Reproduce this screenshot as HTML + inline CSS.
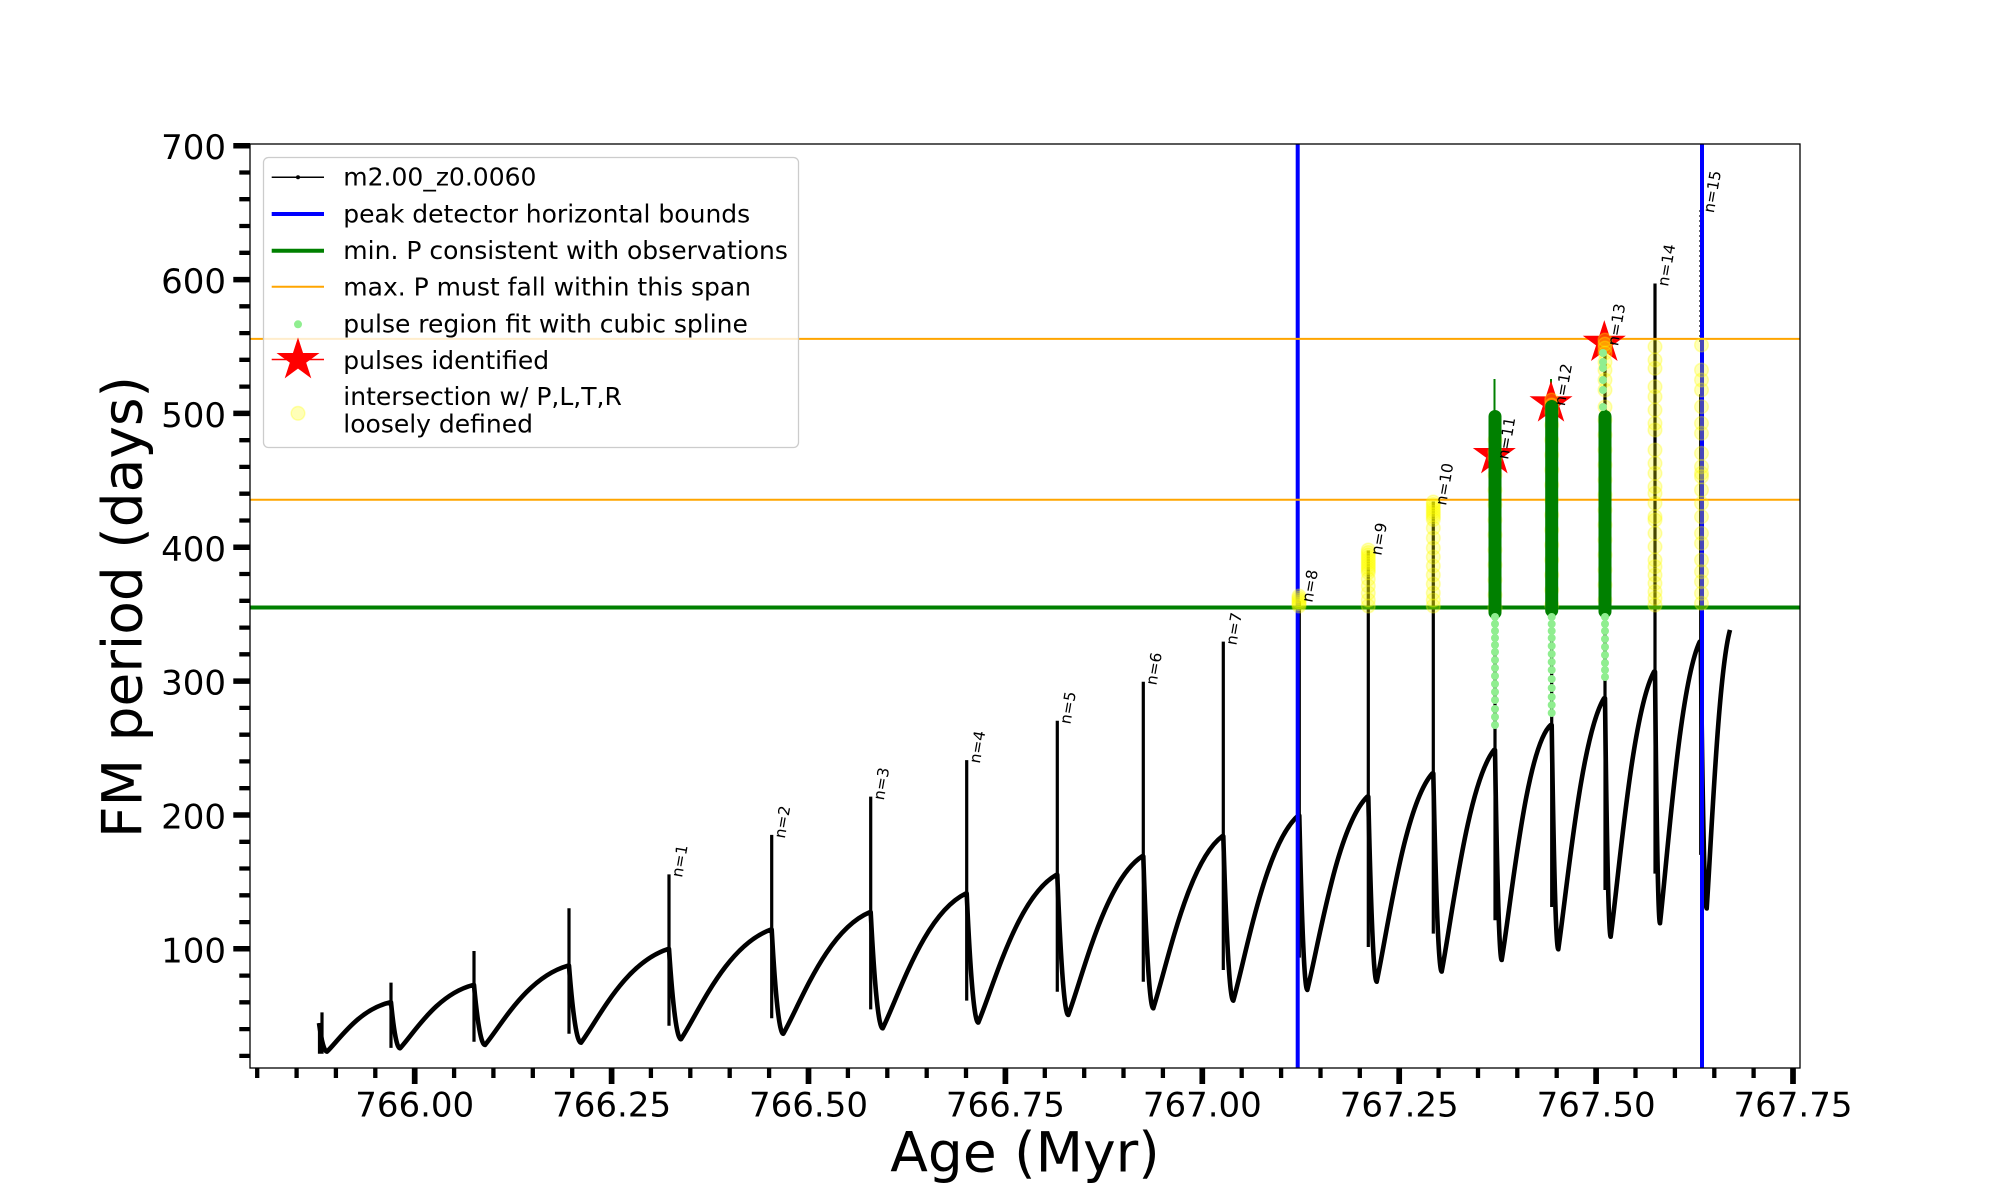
<!DOCTYPE html>
<html><head><meta charset="utf-8"><style>
html,body{margin:0;padding:0;background:#fff}
svg{display:block}
text{font-family:"DejaVu Sans","Liberation Sans",sans-serif;fill:#000}
</style></head><body>
<svg width="2000" height="1200" viewBox="0 0 2000 1200" xmlns="http://www.w3.org/2000/svg">
<rect x="0" y="0" width="2000" height="1200" fill="#fff"/>
<g transform="matrix(1 0 0 -1.335 0 1080.5)">
<path vector-effect="non-scaling-stroke" fill="none" stroke="#000" stroke-width="4.6" stroke-linejoin="round" d="M319,43 Q323,21.6 327,21.6 C339.6,30.8 358.5,53.0 390,58.5 L391,58.5
Q395.5,24.1 400,24.1 C414.6,36.0 436.5,64.4 473,71.5 L474,71.5
Q479.5,26.6 485,26.6 C501.6,41.5 526.5,77.1 568,86 L569,86
Q575,28.3 581,28.3 C598.4,45.85 624.5,87.97 668,98.5 L669,98.5
Q675,30.9 681,30.9 C698.9,51.4 725.9,100.7 770.7,113 L771.7,113
Q777.5,35 783.3,35 C800.6,57.75 826.5,112.35 869.7,126 L870.7,126
Q876.7,39.1 882.7,39.1 C899.3,64.3 924.2,124.9 965.7,140 L966.7,140
Q972.5,43.4 978.3,43.4 C993.9,71.05 1017.3,137.4 1056.3,154 L1057.3,154
Q1062.8,49.1 1068.3,49.1 C1083.1,78.8 1105.3,150.2 1142.3,168 L1143.3,168
Q1148.3,54.1 1153.3,54.1 C1167.1,86.3 1187.8,163.7 1222.3,183 L1223.3,183
Q1228.3,59.8 1233.3,59.8 C1246.3,94.5 1265.8,177.7 1298.3,198.5 L1299.3,198.5
Q1303.3,67.8 1307.3,67.8 C1319.3,104 1337.3,190.9 1367.3,212.6 L1368.3,212.6
Q1372.5,74 1376.7,74 C1387.8,113 1404.5,206.6 1432.3,230 L1433.3,230
Q1437.5,81.6 1441.7,81.6 C1452.2,123.1 1467.9,222.7 1494,247.6 L1495,247.6
Q1498.4,90.3 1501.7,90.3 C1511.5,134.3 1526.2,249.9 1550.7,266.3 L1551.7,266.3
Q1555,98.3 1558.3,98.3 C1567.4,145.3 1581.2,258.1 1604,286.3 L1605,286.3
Q1607.9,107.7 1610.7,107.7 C1619.4,157.3 1632.4,276.4 1654,306.2 L1655,306.2
Q1657.5,117.8 1660,117.8 C1667.9,170.5 1679.9,297.1 1699.7,328.7 L1700.7,328.7
Q1703.7,128.9 1706.7,128.9 C1711.4,180.9 1718.4,306 1730,337.5"/>
<path vector-effect="non-scaling-stroke" fill="none" stroke="#000" stroke-width="3.2" d="M319.5,20 V43 M322,20 V51 M391,24.4 V73.3 M474,29 V97 M569,35 V129 M669,41 V154.4 M771.7,46.6 V184 M870.7,53.3 V212.6 M966.7,59.8 V240 M1057.3,66.5 V269.5 M1143.3,74 V298.7 M1223.3,82.8 V328.7 M1299.3,92 V359 M1368.3,100 V397 M1433.3,110 V433.6 M1495,120 V497 M1551.7,130 V505 M1605,142.7 V552 M1655,155 V597 M1700.7,169 V514"/>
</g>
<path d="M1700,210 V345" stroke="#444" stroke-width="1.6" stroke-dasharray="2 3" fill="none"/>
<!-- reference lines -->
<path d="M1297.7,144 V1068 M1702,144 V1068" stroke="#0000ff" stroke-width="4" fill="none"/>
<path d="M250,607.5 H1800" stroke="#008000" stroke-width="4" fill="none"/>
<path d="M250,338.9 H1800 M250,499.8 H1800" stroke="#ffa500" stroke-width="2" fill="none"/>
<path d="M1494.5,379 V417 M1551,379 V402" stroke="#008000" stroke-width="2" fill="none"/>
<!-- stars -->
<g fill="#ff0000" stroke="#ff0000" stroke-width="1">
<polygon transform="translate(1494.3,455)" points="0,-21 4.70,-6.47 19.97,-6.49 7.61,2.47 12.34,17.0 0,8 -12.34,17.0 -7.61,2.47 -19.97,-6.49 -4.70,-6.47"/>
<polygon transform="translate(1551,403.3)" points="0,-21 4.70,-6.47 19.97,-6.49 7.61,2.47 12.34,17.0 0,8 -12.34,17.0 -7.61,2.47 -19.97,-6.49 -4.70,-6.47"/>
<polygon transform="translate(1604.3,342.7)" points="0,-21 4.70,-6.47 19.97,-6.49 7.61,2.47 12.34,17.0 0,8 -12.34,17.0 -7.61,2.47 -19.97,-6.49 -4.70,-6.47"/>
</g>
<!-- yellow under green columns (n=11..13) -->
<g fill="#ffff00" fill-opacity="0.28" stroke="#ffff00" stroke-opacity="0.3" stroke-width="1.5">
<circle cx="1495" cy="440" r="6.8"/><circle cx="1495" cy="452" r="6.8"/><circle cx="1495" cy="458" r="6.8"/><circle cx="1495" cy="475" r="6.8"/><circle cx="1495" cy="490" r="6.8"/><circle cx="1495" cy="505" r="6.8"/><circle cx="1495" cy="520" r="6.8"/><circle cx="1495" cy="535" r="6.8"/><circle cx="1495" cy="550" r="6.8"/><circle cx="1495" cy="565" r="6.8"/><circle cx="1495" cy="580" r="6.8"/><circle cx="1495" cy="595" r="6.8"/><circle cx="1495" cy="608" r="6.8"/>
<circle cx="1551.7" cy="400" r="6.8"/><circle cx="1551.7" cy="405" r="6.8"/><circle cx="1551.7" cy="412" r="6.8"/><circle cx="1551.7" cy="425" r="6.8"/><circle cx="1551.7" cy="440" r="6.8"/><circle cx="1551.7" cy="455" r="6.8"/><circle cx="1551.7" cy="470" r="6.8"/><circle cx="1551.7" cy="485" r="6.8"/><circle cx="1551.7" cy="500" r="6.8"/><circle cx="1551.7" cy="515" r="6.8"/><circle cx="1551.7" cy="530" r="6.8"/><circle cx="1551.7" cy="545" r="6.8"/><circle cx="1551.7" cy="560" r="6.8"/><circle cx="1551.7" cy="575" r="6.8"/><circle cx="1551.7" cy="590" r="6.8"/><circle cx="1551.7" cy="605" r="6.8"/>
<circle cx="1605" cy="340" r="6.8"/><circle cx="1605" cy="344" r="6.8"/><circle cx="1605" cy="348" r="6.8"/><circle cx="1605" cy="353" r="6.8"/><circle cx="1605" cy="362" r="6.8"/><circle cx="1605" cy="370" r="6.8"/><circle cx="1605" cy="380" r="6.8"/><circle cx="1605" cy="390" r="6.8"/><circle cx="1605" cy="407" r="6.8"/><circle cx="1605" cy="420" r="6.8"/><circle cx="1605" cy="435" r="6.8"/><circle cx="1605" cy="450" r="6.8"/><circle cx="1605" cy="465" r="6.8"/><circle cx="1605" cy="480" r="6.8"/><circle cx="1605" cy="495" r="6.8"/><circle cx="1605" cy="510" r="6.8"/><circle cx="1605" cy="525" r="6.8"/><circle cx="1605" cy="540" r="6.8"/><circle cx="1605" cy="555" r="6.8"/><circle cx="1605" cy="570" r="6.8"/><circle cx="1605" cy="585" r="6.8"/><circle cx="1605" cy="600" r="6.8"/>
</g>
<!-- dark green columns -->
<g fill="#008000">
<rect x="1488.5" y="410" width="13" height="209" rx="6.5"/>
<rect x="1545.2" y="400" width="13" height="217" rx="6.5"/>
<rect x="1598.5" y="410" width="13" height="208" rx="6.5"/>
</g>
<!-- light green dots -->
<g fill="#90ee90">
<circle cx="1495" cy="617" r="4"/><circle cx="1495" cy="624" r="4"/><circle cx="1495" cy="631" r="4"/><circle cx="1495" cy="638" r="4"/><circle cx="1495" cy="645" r="4"/><circle cx="1495" cy="652" r="4"/><circle cx="1495" cy="660" r="4"/><circle cx="1495" cy="668" r="4"/><circle cx="1495" cy="676" r="4"/><circle cx="1495" cy="684" r="4"/><circle cx="1495" cy="692" r="4"/><circle cx="1495" cy="700" r="4"/><circle cx="1495" cy="709" r="4"/><circle cx="1495" cy="717" r="4"/><circle cx="1495" cy="725" r="4"/>
<circle cx="1551.7" cy="617" r="4"/><circle cx="1551.7" cy="624" r="4"/><circle cx="1551.7" cy="631" r="4"/><circle cx="1551.7" cy="638" r="4"/><circle cx="1551.7" cy="646" r="4"/><circle cx="1551.7" cy="654" r="4"/><circle cx="1551.7" cy="662" r="4"/><circle cx="1551.7" cy="670" r="4"/><circle cx="1551.7" cy="679" r="4"/><circle cx="1551.7" cy="688" r="4"/><circle cx="1551.7" cy="697" r="4"/><circle cx="1551.7" cy="705" r="4"/><circle cx="1551.7" cy="713" r="4"/>
<circle cx="1605" cy="617" r="4"/><circle cx="1605" cy="624" r="4"/><circle cx="1605" cy="631" r="4"/><circle cx="1605" cy="639" r="4"/><circle cx="1605" cy="647" r="4"/><circle cx="1605" cy="655" r="4"/><circle cx="1605" cy="663" r="4"/><circle cx="1605" cy="670" r="4"/><circle cx="1605" cy="677" r="4"/>
<circle cx="1603" cy="353" r="4"/><circle cx="1603" cy="362" r="4"/><circle cx="1603" cy="368" r="4"/><circle cx="1603" cy="380" r="4"/><circle cx="1603" cy="390" r="4"/><circle cx="1603" cy="407" r="4"/>
</g>
<!-- yellow loosely defined -->
<g fill="#ffff00" fill-opacity="0.28" stroke="#ffff00" stroke-opacity="0.3" stroke-width="1.5">
<circle cx="1299" cy="596" r="6.8"/><circle cx="1299" cy="598" r="6.8"/><circle cx="1299" cy="600" r="6.8"/><circle cx="1299" cy="602" r="6.8"/><circle cx="1299" cy="604" r="6.8"/><circle cx="1299" cy="606" r="6.8"/>
<circle cx="1368.3" cy="550" r="6.8"/><circle cx="1368.3" cy="552.5" r="6.8"/><circle cx="1368.3" cy="555" r="6.8"/><circle cx="1368.3" cy="557.5" r="6.8"/><circle cx="1368.3" cy="560" r="6.8"/><circle cx="1368.3" cy="562.5" r="6.8"/><circle cx="1368.3" cy="565" r="6.8"/><circle cx="1368.3" cy="567.5" r="6.8"/><circle cx="1368.3" cy="570" r="6.8"/><circle cx="1368.3" cy="572.5" r="6.8"/><circle cx="1368.3" cy="579" r="6.8"/><circle cx="1368.3" cy="586" r="6.8"/><circle cx="1368.3" cy="593" r="6.8"/><circle cx="1368.3" cy="600" r="6.8"/><circle cx="1368.3" cy="606" r="6.8"/>
<circle cx="1433.3" cy="502" r="6.8"/><circle cx="1433.3" cy="504.5" r="6.8"/><circle cx="1433.3" cy="507" r="6.8"/><circle cx="1433.3" cy="509.5" r="6.8"/><circle cx="1433.3" cy="512" r="6.8"/><circle cx="1433.3" cy="514.5" r="6.8"/><circle cx="1433.3" cy="517" r="6.8"/><circle cx="1433.3" cy="519.5" r="6.8"/><circle cx="1433.3" cy="528" r="6.8"/><circle cx="1433.3" cy="538" r="6.8"/><circle cx="1433.3" cy="548" r="6.8"/><circle cx="1433.3" cy="557" r="6.8"/><circle cx="1433.3" cy="566" r="6.8"/><circle cx="1433.3" cy="575" r="6.8"/><circle cx="1433.3" cy="584" r="6.8"/><circle cx="1433.3" cy="593" r="6.8"/><circle cx="1433.3" cy="600" r="6.8"/><circle cx="1433.3" cy="606" r="6.8"/>
<circle cx="1655" cy="346.7" r="6.8"/><circle cx="1655" cy="360" r="6.8"/><circle cx="1655" cy="368.3" r="6.8"/><circle cx="1655" cy="386.7" r="6.8"/><circle cx="1655" cy="396.7" r="6.8"/><circle cx="1655" cy="410" r="6.8"/><circle cx="1655" cy="423.3" r="6.8"/><circle cx="1655" cy="430" r="6.8"/><circle cx="1655" cy="450" r="6.8"/><circle cx="1655" cy="463.3" r="6.8"/><circle cx="1655" cy="473.3" r="6.8"/><circle cx="1655" cy="486.7" r="6.8"/><circle cx="1655" cy="493.3" r="6.8"/><circle cx="1655" cy="503.3" r="6.8"/><circle cx="1655" cy="516.7" r="6.8"/><circle cx="1655" cy="520" r="6.8"/><circle cx="1655" cy="533.3" r="6.8"/><circle cx="1655" cy="546.7" r="6.8"/><circle cx="1655" cy="560" r="6.8"/><circle cx="1655" cy="566.7" r="6.8"/><circle cx="1655" cy="575" r="6.8"/><circle cx="1655" cy="583.3" r="6.8"/><circle cx="1655" cy="591.7" r="6.8"/><circle cx="1655" cy="598.3" r="6.8"/><circle cx="1655" cy="605" r="6.8"/>
<circle cx="1701.5" cy="345" r="6.8"/><circle cx="1701.5" cy="370" r="6.8"/><circle cx="1701.5" cy="380" r="6.8"/><circle cx="1701.5" cy="390" r="6.8"/><circle cx="1701.5" cy="406.7" r="6.8"/><circle cx="1701.5" cy="423.3" r="6.8"/><circle cx="1701.5" cy="433.3" r="6.8"/><circle cx="1701.5" cy="453.3" r="6.8"/><circle cx="1701.5" cy="466.7" r="6.8"/><circle cx="1701.5" cy="473.3" r="6.8"/><circle cx="1701.5" cy="476.7" r="6.8"/><circle cx="1701.5" cy="490" r="6.8"/><circle cx="1701.5" cy="503.3" r="6.8"/><circle cx="1701.5" cy="516.7" r="6.8"/><circle cx="1701.5" cy="533.3" r="6.8"/><circle cx="1701.5" cy="543.3" r="6.8"/><circle cx="1701.5" cy="560" r="6.8"/><circle cx="1701.5" cy="571.7" r="6.8"/><circle cx="1701.5" cy="581.7" r="6.8"/><circle cx="1701.5" cy="593.3" r="6.8"/><circle cx="1701.5" cy="603.3" r="6.8"/>
</g>
<!-- n labels -->
<g font-size="15.5">
<text transform="translate(682,878) rotate(-80)">n=1</text>
<text transform="translate(784.7,839) rotate(-80)">n=2</text>
<text transform="translate(883.7,800.7) rotate(-80)">n=3</text>
<text transform="translate(979.7,764) rotate(-80)">n=4</text>
<text transform="translate(1070.3,724.7) rotate(-80)">n=5</text>
<text transform="translate(1156.3,685.7) rotate(-80)">n=6</text>
<text transform="translate(1236.3,645.7) rotate(-80)">n=7</text>
<text transform="translate(1312.3,603) rotate(-80)">n=8</text>
<text transform="translate(1381.3,556) rotate(-80)">n=9</text>
<text transform="translate(1446,506) rotate(-80)">n=10</text>
<text transform="translate(1508,460) rotate(-80)">n=11</text>
<text transform="translate(1564.7,406.5) rotate(-80)">n=12</text>
<text transform="translate(1618,346.5) rotate(-80)">n=13</text>
<text transform="translate(1668,287) rotate(-80)">n=14</text>
<text transform="translate(1713.7,213.5) rotate(-80)">n=15</text>
</g>
<!-- axes frame -->
<rect x="250" y="144" width="1550" height="924" fill="none" stroke="#000" stroke-width="1.3"/>
<!-- y ticks -->
<path stroke="#000" stroke-width="5.5" fill="none" d="M233.3,948.8H250 M233.3,815H250 M233.3,681.1H250 M233.3,547.3H250 M233.3,413.4H250 M233.3,279.6H250 M233.3,145.7H250"/>
<path stroke="#000" stroke-width="4.3" fill="none" d="M239.3,1055.9H250 M239.3,1029.1H250 M239.3,1002.3H250 M239.3,975.6H250 M239.3,922.1H250 M239.3,895.3H250 M239.3,868.5H250 M239.3,841.8H250 M239.3,788.2H250 M239.3,761.4H250 M239.3,734.7H250 M239.3,707.9H250 M239.3,654.3H250 M239.3,627.6H250 M239.3,600.8H250 M239.3,574H250 M239.3,520.5H250 M239.3,493.7H250 M239.3,466.9H250 M239.3,440.2H250 M239.3,386.6H250 M239.3,359.8H250 M239.3,333.1H250 M239.3,306.3H250 M239.3,252.8H250 M239.3,226H250 M239.3,199.2H250 M239.3,172.5H250"/>
<g font-size="34" text-anchor="end">
<text x="226" y="962.3">100</text>
<text x="226" y="828.5">200</text>
<text x="226" y="694.6">300</text>
<text x="226" y="560.8">400</text>
<text x="226" y="426.9">500</text>
<text x="226" y="293.1">600</text>
<text x="226" y="159.2">700</text>
</g>
<!-- x ticks -->
<path stroke="#000" stroke-width="5.7" fill="none" d="M414.7,1068V1084 M611.6,1068V1084 M808.5,1068V1084 M1005.4,1068V1084 M1202.3,1068V1084 M1399.2,1068V1084 M1596.1,1068V1084 M1793,1068V1084"/>
<path stroke="#000" stroke-width="4.3" fill="none" d="M257.2,1068V1078 M296.6,1068V1078 M335.9,1068V1078 M375.3,1068V1078 M454.1,1068V1078 M493.4,1068V1078 M532.8,1068V1078 M572.2,1068V1078 M650.9,1068V1078 M690.3,1068V1078 M729.7,1068V1078 M769.1,1068V1078 M847.9,1068V1078 M887.3,1068V1078 M926.7,1068V1078 M966,1068V1078 M1044.8,1068V1078 M1084.2,1068V1078 M1123.5,1068V1078 M1162.9,1068V1078 M1241.7,1068V1078 M1281.1,1068V1078 M1320.5,1068V1078 M1359.8,1068V1078 M1438.6,1068V1078 M1478,1068V1078 M1517.3,1068V1078 M1556.7,1068V1078 M1635.5,1068V1078 M1674.9,1068V1078 M1714.3,1068V1078 M1753.6,1068V1078"/>
<g font-size="34" text-anchor="middle">
<text x="414.7" y="1116.5">766.00</text>
<text x="611.6" y="1116.5">766.25</text>
<text x="808.5" y="1116.5">766.50</text>
<text x="1005.4" y="1116.5">766.75</text>
<text x="1202.3" y="1116.5">767.00</text>
<text x="1399.2" y="1116.5">767.25</text>
<text x="1596.1" y="1116.5">767.50</text>
<text x="1793" y="1116.5">767.75</text>
</g>
<!-- axis labels -->
<text x="1025" y="1171.5" font-size="55" text-anchor="middle">Age (Myr)</text>
<text transform="translate(141.7,607) rotate(-90)" font-size="55" text-anchor="middle">FM period (days)</text>
<!-- legend -->
<rect x="263.5" y="157.5" width="535" height="290" rx="5" fill="#fff" fill-opacity="0.8" stroke="#cccccc" stroke-width="1.3"/>
<path d="M271.7,177.3H324" stroke="#000" stroke-width="1.5"/>
<circle cx="298" cy="177.3" r="2" fill="#000"/>
<path d="M271.7,214H324" stroke="#0000ff" stroke-width="4"/>
<path d="M271.7,250.7H324" stroke="#008000" stroke-width="4"/>
<path d="M271.7,286.7H324" stroke="#ffa500" stroke-width="2"/>
<circle cx="298" cy="324.3" r="4" fill="#90ee90"/>
<path d="M271.7,359.5H324" stroke="#ff0000" stroke-width="1.5"/>
<polygon transform="translate(298,360)" fill="#ff0000" stroke="#ff0000" stroke-width="1" points="0,-21 4.70,-6.47 19.97,-6.49 7.61,2.47 12.34,17.0 0,8 -12.34,17.0 -7.61,2.47 -19.97,-6.49 -4.70,-6.47"/>
<circle cx="298" cy="413.3" r="6.8" fill="#ffff00" fill-opacity="0.28" stroke="#ffff00" stroke-opacity="0.3" stroke-width="1.5"/>
<g font-size="25">
<text x="343.3" y="185.7">m2.00_z0.0060</text>
<text x="343.3" y="222.3">peak detector horizontal bounds</text>
<text x="343.3" y="259">min. P consistent with observations</text>
<text x="343.3" y="295.7">max. P must fall within this span</text>
<text x="343.3" y="332.7">pulse region fit with cubic spline</text>
<text x="343.3" y="369">pulses identified</text>
<text x="343.3" y="405">intersection w/ P,L,T,R</text>
<text x="343.3" y="432.3">loosely defined</text>
</g>
</svg>
</body></html>
